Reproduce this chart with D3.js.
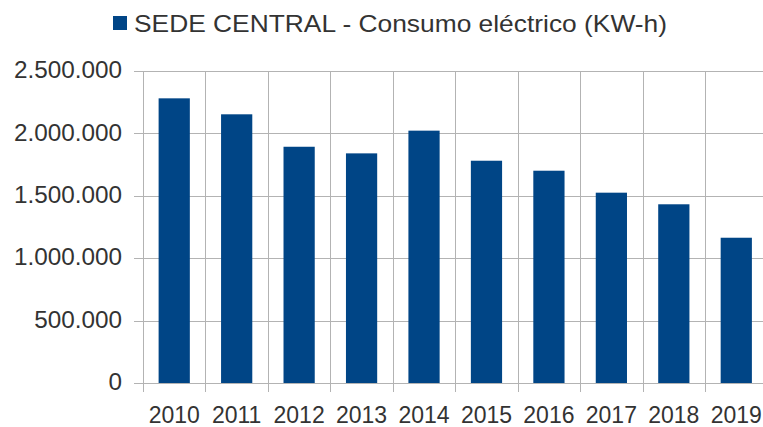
<!DOCTYPE html>
<html><head><meta charset="utf-8">
<script src="https://cdn.jsdelivr.net/npm/d3@7"></script>
<style>body{margin:0;background:#fff}svg{display:block}text{font-family:"Liberation Sans",Arial,sans-serif;fill:#333}</style>
</head><body><svg id="c" width="763" height="427"></svg>
<script>
const categories = ["2010","2011","2012","2013","2014","2015","2016","2017","2018","2019"];
const values = [2281000,2153000,1893000,1840000,2022000,1781000,1701000,1525000,1432000,1164000];
const yTicks = [0,500000,1000000,1500000,2000000,2500000];
const seriesName = "SEDE CENTRAL - Consumo eléctrico (KW-h)";

(function(){
const svg = d3.select("#c");
const pL = 143, pR = 767.5, pT = 71, pB = 383;
const x = d3.scaleBand().domain(categories).range([pL, pR]).paddingInner(0).paddingOuter(0);
const y = d3.scaleLinear().domain([0, 2500000]).range([pB, pT]);
const fmt = v => d3.format(",")(v).replace(/,/g, ".");
const grid = "#b3b3b3";

svg.append("g").selectAll("line").data(yTicks).join("line")
  .attr("x1", pL - 9).attr("x2", pR).attr("y1", d => Math.round(y(d)) + 0.5).attr("y2", d => Math.round(y(d)) + 0.5)
  .attr("stroke", grid).attr("stroke-width", 1);
const bounds = categories.map(c => x(c)).concat([pR]);
svg.append("g").selectAll("line").data(bounds).join("line")
  .attr("x1", d => Math.round(d) + 0.5).attr("x2", d => Math.round(d) + 0.5).attr("y1", pT).attr("y2", pB + 9)
  .attr("stroke", grid).attr("stroke-width", 1);

const bw = x.bandwidth() * 0.5;
svg.append("g").selectAll("rect").data(values).join("rect")
  .attr("x", (d, i) => x(categories[i]) + x.bandwidth() / 2 - bw / 2)
  .attr("width", bw)
  .attr("y", d => y(d)).attr("height", d => pB - y(d))
  .attr("fill", "#004586");

svg.append("g").selectAll("text").data(yTicks).join("text")
  .attr("x", pL - 21).attr("y", d => y(d)).attr("dy", "0.3em")
  .attr("text-anchor", "end").attr("font-size", 24.3).text(d => fmt(d));
svg.append("g").selectAll("text").data(categories).join("text")
  .attr("x", d => x(d) + x.bandwidth() / 2).attr("y", 422.5)
  .attr("text-anchor", "middle").attr("font-size", 23).text(d => d);

const lg = svg.append("g");
lg.append("rect").attr("x", 113).attr("y", 16).attr("width", 14).attr("height", 14).attr("fill", "#004586");
lg.append("text").attr("x", 134).attr("y", 31.5).attr("font-size", 24)
  .attr("textLength", 533).attr("lengthAdjust", "spacingAndGlyphs").text(seriesName);
})();
</script></body></html>
